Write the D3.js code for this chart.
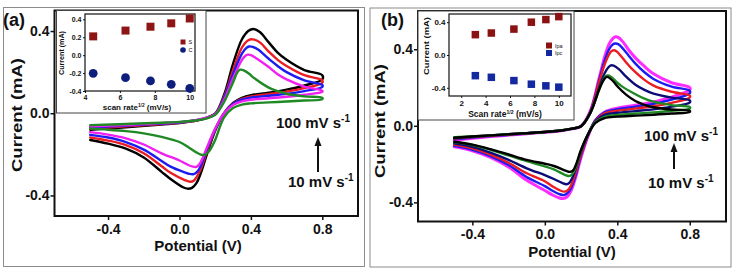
<!DOCTYPE html>
<html lang="en">
<head>
<meta charset="UTF-8">
<script src="https://d3js.org/d3.v7.min.js"></script>
<title>Cyclic voltammograms</title>
<style>
  body { margin: 0; background: #fff; }
  svg { display: block; }
  text { font-family: "Liberation Sans", Arial, sans-serif; font-weight: bold; fill: #111; }
</style>
</head>
<body>
<div id="chart"></div>
<script>
// ---- data ----
const potentialTicks = [-0.4, 0.0, 0.4, 0.8];
const currentTicks = [-0.4, 0.0, 0.4];

// panel (a): [potential (V), current (mA)], forward sweep then reverse sweep
const cvA_black = [[-0.5,-0.08],[-0.3,-0.068],[-0.1,-0.055],[0.0,-0.048],[0.1,-0.035],[0.15,-0.022],[0.2,-0.002],[0.25,0.09],[0.3,0.24],[0.35,0.36],[0.385,0.4],[0.414,0.41],[0.45,0.395],[0.5,0.345],[0.55,0.295],[0.6,0.26],[0.7,0.21],[0.8,0.185],
  [0.8,0.165],[0.7,0.135],[0.6,0.115],[0.5,0.1],[0.4,0.088],[0.35,0.075],[0.3,0.05],[0.25,0.0],[0.2,-0.085],[0.15,-0.21],[0.12,-0.29],[0.095,-0.34],[0.07,-0.363],[0.045,-0.367],[0.02,-0.36],[-0.05,-0.32],[-0.1,-0.285],[-0.2,-0.215],[-0.3,-0.172],[-0.4,-0.148],[-0.5,-0.13]];
const cvA_red = [[-0.5,-0.075],[-0.3,-0.064],[-0.1,-0.052],[0.0,-0.046],[0.1,-0.034],[0.15,-0.022],[0.2,-0.003],[0.25,0.08],[0.3,0.21],[0.35,0.32],[0.38,0.352],[0.4,0.36],[0.42,0.358],[0.45,0.345],[0.5,0.3],[0.55,0.26],[0.6,0.23],[0.7,0.185],[0.8,0.16],
  [0.8,0.148],[0.7,0.122],[0.6,0.105],[0.5,0.093],[0.4,0.082],[0.35,0.07],[0.3,0.047],[0.25,0.0],[0.2,-0.08],[0.15,-0.195],[0.12,-0.27],[0.1,-0.305],[0.08,-0.328],[0.06,-0.333],[0.03,-0.325],[-0.05,-0.29],[-0.1,-0.258],[-0.2,-0.195],[-0.3,-0.155],[-0.4,-0.133],[-0.5,-0.118]];
const cvA_blue = [[-0.5,-0.07],[-0.3,-0.06],[-0.1,-0.05],[0.0,-0.045],[0.1,-0.033],[0.15,-0.022],[0.2,-0.004],[0.25,0.075],[0.3,0.19],[0.35,0.29],[0.375,0.318],[0.39,0.325],[0.41,0.323],[0.44,0.31],[0.5,0.265],[0.55,0.23],[0.6,0.2],[0.7,0.16],[0.8,0.137],
  [0.8,0.128],[0.7,0.108],[0.6,0.094],[0.5,0.085],[0.4,0.076],[0.35,0.066],[0.3,0.045],[0.25,0.0],[0.2,-0.078],[0.15,-0.185],[0.12,-0.255],[0.1,-0.284],[0.08,-0.296],[0.055,-0.295],[0.03,-0.288],[-0.05,-0.26],[-0.1,-0.232],[-0.2,-0.177],[-0.3,-0.14],[-0.4,-0.118],[-0.5,-0.105]];
const cvA_magenta = [[-0.5,-0.065],[-0.3,-0.057],[-0.1,-0.048],[0.0,-0.043],[0.1,-0.032],[0.15,-0.022],[0.2,-0.005],[0.25,0.065],[0.3,0.17],[0.35,0.26],[0.37,0.28],[0.383,0.285],[0.4,0.283],[0.43,0.268],[0.5,0.225],[0.55,0.19],[0.6,0.165],[0.7,0.13],[0.8,0.11],
  [0.8,0.105],[0.7,0.09],[0.6,0.08],[0.5,0.073],[0.4,0.066],[0.35,0.058],[0.3,0.04],[0.25,0.0],[0.2,-0.075],[0.15,-0.175],[0.125,-0.228],[0.11,-0.25],[0.095,-0.261],[0.075,-0.26],[0.04,-0.248],[0.0,-0.23],[-0.1,-0.195],[-0.2,-0.152],[-0.3,-0.122],[-0.4,-0.104],[-0.5,-0.092]];
const cvA_green = [[-0.5,-0.058],[-0.3,-0.052],[-0.1,-0.046],[0.0,-0.042],[0.1,-0.034],[0.15,-0.026],[0.2,-0.008],[0.25,0.055],[0.3,0.15],[0.325,0.2],[0.34,0.212],[0.36,0.209],[0.39,0.192],[0.42,0.17],[0.5,0.125],[0.55,0.108],[0.6,0.095],[0.7,0.082],[0.8,0.075],
  [0.8,0.068],[0.7,0.062],[0.6,0.057],[0.5,0.053],[0.4,0.048],[0.35,0.042],[0.3,0.025],[0.25,-0.02],[0.2,-0.13],[0.17,-0.18],[0.15,-0.198],[0.13,-0.203],[0.1,-0.193],[0.05,-0.165],[0.0,-0.14],[-0.1,-0.115],[-0.2,-0.098],[-0.3,-0.087],[-0.4,-0.08],[-0.5,-0.075]];

// panel (b)
const cvB_magenta = [[-0.5,-0.075],[-0.3,-0.056],[-0.1,-0.041],[0.0,-0.034],[0.1,-0.024],[0.15,-0.016],[0.2,-0.002],[0.25,0.075],[0.3,0.25],[0.33,0.36],[0.355,0.428],[0.375,0.456],[0.39,0.465],[0.405,0.462],[0.43,0.44],[0.46,0.4],[0.5,0.355],[0.55,0.31],[0.6,0.272],[0.7,0.225],[0.8,0.2],
  [0.8,0.188],[0.7,0.15],[0.6,0.125],[0.5,0.108],[0.4,0.092],[0.33,0.072],[0.28,0.03],[0.24,-0.05],[0.2,-0.165],[0.17,-0.27],[0.145,-0.34],[0.122,-0.372],[0.1,-0.38],[0.075,-0.375],[0.04,-0.36],[0.0,-0.338],[-0.1,-0.285],[-0.2,-0.215],[-0.3,-0.165],[-0.4,-0.13],[-0.5,-0.11]];
const cvB_blue = [[-0.5,-0.07],[-0.3,-0.054],[-0.1,-0.04],[0.0,-0.033],[0.1,-0.024],[0.15,-0.016],[0.2,-0.002],[0.25,0.072],[0.3,0.24],[0.33,0.34],[0.355,0.4],[0.375,0.425],[0.39,0.43],[0.405,0.427],[0.43,0.405],[0.46,0.37],[0.5,0.325],[0.55,0.28],[0.6,0.245],[0.7,0.205],[0.8,0.183],
  [0.8,0.17],[0.7,0.137],[0.6,0.115],[0.5,0.1],[0.4,0.087],[0.33,0.07],[0.28,0.03],[0.24,-0.048],[0.2,-0.155],[0.17,-0.26],[0.145,-0.325],[0.125,-0.352],[0.105,-0.362],[0.08,-0.357],[0.04,-0.338],[0.0,-0.315],[-0.1,-0.268],[-0.2,-0.205],[-0.3,-0.158],[-0.4,-0.125],[-0.5,-0.105]];
const cvB_red = [[-0.5,-0.066],[-0.3,-0.052],[-0.1,-0.039],[0.0,-0.032],[0.1,-0.023],[0.15,-0.015],[0.2,-0.002],[0.25,0.07],[0.3,0.23],[0.33,0.32],[0.35,0.365],[0.365,0.388],[0.38,0.395],[0.395,0.39],[0.42,0.365],[0.45,0.33],[0.5,0.28],[0.55,0.24],[0.6,0.21],[0.7,0.178],[0.8,0.158],
  [0.8,0.148],[0.7,0.12],[0.6,0.102],[0.5,0.09],[0.4,0.079],[0.33,0.065],[0.28,0.028],[0.24,-0.045],[0.2,-0.148],[0.17,-0.245],[0.15,-0.3],[0.13,-0.333],[0.11,-0.344],[0.085,-0.338],[0.04,-0.315],[0.0,-0.29],[-0.1,-0.248],[-0.2,-0.193],[-0.3,-0.15],[-0.4,-0.118],[-0.5,-0.098]];
const cvB_navy = [[-0.5,-0.064],[-0.3,-0.05],[-0.1,-0.038],[0.0,-0.032],[0.1,-0.023],[0.15,-0.015],[0.2,-0.002],[0.25,0.065],[0.3,0.2],[0.33,0.275],[0.35,0.305],[0.365,0.316],[0.38,0.314],[0.41,0.295],[0.44,0.265],[0.5,0.215],[0.55,0.188],[0.6,0.168],[0.7,0.147],[0.8,0.133],
  [0.8,0.122],[0.7,0.1],[0.6,0.086],[0.5,0.077],[0.4,0.068],[0.33,0.057],[0.28,0.025],[0.24,-0.04],[0.2,-0.135],[0.17,-0.225],[0.15,-0.275],[0.135,-0.298],[0.12,-0.305],[0.095,-0.298],[0.05,-0.278],[0.0,-0.258],[-0.1,-0.222],[-0.2,-0.178],[-0.3,-0.14],[-0.4,-0.11],[-0.5,-0.092]];
const cvB_green = [[-0.5,-0.06],[-0.3,-0.05],[-0.1,-0.038],[0.0,-0.032],[0.1,-0.023],[0.15,-0.015],[0.2,-0.002],[0.25,0.065],[0.3,0.19],[0.32,0.235],[0.335,0.258],[0.35,0.263],[0.365,0.256],[0.39,0.235],[0.42,0.21],[0.5,0.165],[0.55,0.142],[0.6,0.126],[0.7,0.108],[0.8,0.098],
  [0.8,0.09],[0.7,0.079],[0.6,0.07],[0.5,0.064],[0.4,0.057],[0.33,0.047],[0.28,0.02],[0.24,-0.04],[0.2,-0.13],[0.175,-0.205],[0.16,-0.24],[0.145,-0.258],[0.13,-0.262],[0.11,-0.256],[0.05,-0.228],[0.0,-0.212],[-0.1,-0.185],[-0.2,-0.155],[-0.3,-0.125],[-0.4,-0.1],[-0.5,-0.085]];
const cvB_black = [[-0.5,-0.062],[-0.3,-0.05],[-0.1,-0.038],[0.0,-0.032],[0.1,-0.023],[0.15,-0.015],[0.2,-0.002],[0.25,0.065],[0.3,0.19],[0.32,0.232],[0.335,0.252],[0.345,0.256],[0.36,0.248],[0.38,0.23],[0.4,0.207],[0.45,0.162],[0.5,0.13],[0.55,0.11],[0.6,0.097],[0.7,0.085],[0.8,0.078],
  [0.8,0.072],[0.7,0.064],[0.6,0.058],[0.5,0.053],[0.4,0.048],[0.33,0.04],[0.28,0.015],[0.24,-0.042],[0.2,-0.125],[0.175,-0.195],[0.16,-0.228],[0.145,-0.24],[0.13,-0.24],[0.11,-0.233],[0.05,-0.21],[0.0,-0.198],[-0.1,-0.178],[-0.2,-0.15],[-0.3,-0.122],[-0.4,-0.098],[-0.5,-0.083]];

// insets: peak current vs square root of scan rate
const insetA_rate = [4.47, 6.32, 7.75, 8.94, 10.0];
const insetA_S = [0.21, 0.275, 0.318, 0.356, 0.41];
const insetA_C = [-0.203, -0.251, -0.288, -0.326, -0.37];
const insetA_xTicks = [4, 6, 8, 10];
const insetA_yTicks = [-0.4, -0.2, 0.0, 0.2, 0.4];
const insetA_labels = ["S", "C"];

const insetB_rate = [3.16, 4.47, 6.32, 7.75, 8.94, 10.0];
const insetB_ipa = [0.248, 0.268, 0.316, 0.4, 0.432, 0.468];
const insetB_ipc = [-0.252, -0.272, -0.312, -0.356, -0.376, -0.392];
const insetB_xTicks = [2, 4, 6, 8, 10];
const insetB_yTicks = [-0.4, 0.0, 0.4];
const insetB_labels = ["Ipa", "Ipc"];

// ---- drawing ----
const width = 738, height = 277;
const svg = d3.select("#chart").append("svg")
  .attr("width", width)
  .attr("height", height)
  .attr("viewBox", `0 0 ${width} ${height}`);

svg.append("rect").attr("width", width).attr("height", height).attr("fill", "#fff");

function styleAxis(sel, size) {
  sel.select(".domain").remove();
  sel.selectAll("line").attr("stroke", "#111").attr("stroke-width", size > 10 ? 1.5 : 1);
  sel.selectAll("text").attr("font-size", size).attr("fill", "#111");
}

function drawPanel(cfg) {
  const g = svg.append("g");
  const f = cfg.frame;

  // light outer border
  g.append("rect")
    .attr("x", cfg.box[0]).attr("y", cfg.box[1])
    .attr("width", cfg.box[2]).attr("height", cfg.box[3])
    .attr("fill", "none").attr("stroke", "#8c8c8c").attr("stroke-width", 1);

  const x = d3.scaleLinear().domain([-0.7, 1.0]).range([f.left, f.right]);
  const y = d3.scaleLinear().domain(cfg.yDomain).range([f.bottom, f.top]);

  const line = d3.line()
    .x(d => x(d[0]))
    .y(d => y(d[1]))
    .curve(d3.curveCatmullRom.alpha(0.5));

  g.selectAll(".cv")
    .data(cfg.series)
    .join("path")
    .attr("class", "cv")
    .attr("d", d => line(d.values))
    .attr("fill", "none")
    .attr("stroke", d => d.color)
    .attr("stroke-width", d => d.width)
    .attr("stroke-linejoin", "round")
    .attr("stroke-linecap", "round");

  g.append("g")
    .attr("transform", `translate(0,${f.bottom})`)
    .call(d3.axisBottom(x).tickValues(potentialTicks).tickFormat(d => d.toFixed(1)).tickSize(4).tickPadding(4))
    .call(a => styleAxis(a, 14));

  g.append("g")
    .attr("transform", `translate(${f.left},0)`)
    .call(d3.axisLeft(y).tickValues(currentTicks).tickFormat(d => d.toFixed(1)).tickSize(4).tickPadding(1))
    .call(a => styleAxis(a, 14));

  g.append("rect")
    .attr("x", f.left).attr("y", f.top)
    .attr("width", f.right - f.left).attr("height", f.bottom - f.top)
    .attr("fill", "none").attr("stroke", "#111").attr("stroke-width", 2);

  // titles
  g.append("text")
    .attr("x", cfg.xTitle[0]).attr("y", cfg.xTitle[1])
    .attr("text-anchor", "middle").attr("font-size", 15)
    .text("Potential (V)");

  g.append("text")
    .attr("transform", `translate(${cfg.yTitle[0]},${cfg.yTitle[1]}) rotate(-90)`)
    .attr("text-anchor", "middle").attr("font-size", 15)
    .attr("textLength", 114).attr("lengthAdjust", "spacingAndGlyphs")
    .text("Current (mA)");

  g.append("text")
    .attr("x", cfg.tag[0]).attr("y", cfg.tag[1])
    .attr("font-size", 18)
    .text(cfg.tagText);

  // scan-rate annotation
  const an = cfg.note;
  const rate = (t, px, py) => {
    const tx = g.append("text").attr("x", px).attr("y", py).attr("font-size", 15);
    tx.append("tspan").text(t);
    tx.append("tspan").attr("font-size", 10).attr("dy", -6).text("-1");
  };
  rate("100 mV s", an.top[0], an.top[1]);
  rate("10 mV s", an.bottom[0], an.bottom[1]);
  g.append("line")
    .attr("x1", an.arrowX).attr("x2", an.arrowX)
    .attr("y1", an.arrowY[0]).attr("y2", an.arrowY[1] + 6)
    .attr("stroke", "#111").attr("stroke-width", 2);
  g.append("path")
    .attr("d", d3.line()([[an.arrowX - 3.5, an.arrowY[1] + 9], [an.arrowX, an.arrowY[1]], [an.arrowX + 3.5, an.arrowY[1] + 9]]) + "Z")
    .attr("fill", "#111");

  drawInset(g, cfg.inset);
}

function drawInset(g, c) {
  g.append("rect")
    .attr("x", c.box[0]).attr("y", c.box[1])
    .attr("width", c.box[2]).attr("height", c.box[3])
    .attr("fill", "#fff").attr("stroke", "#444").attr("stroke-width", 1);

  const p = c.plot;
  const x = d3.scaleLinear().domain(c.xDomain).range([p.left, p.right]);
  const y = d3.scaleLinear().domain(c.yDomain).range([p.bottom, p.top]);

  g.append("g")
    .attr("transform", `translate(0,${p.bottom})`)
    .call(d3.axisBottom(x).tickValues(c.xTicks).tickFormat(d3.format("d")).tickSize(2).tickPadding(2))
    .call(a => styleAxis(a, c.font));

  g.append("g")
    .attr("transform", `translate(${p.left},0)`)
    .call(d3.axisLeft(y).tickValues(c.yTicks).tickFormat(d => d.toFixed(1)).tickSize(2).tickPadding(1.5))
    .call(a => styleAxis(a, c.font));

  g.append("rect")
    .attr("x", p.left).attr("y", p.top)
    .attr("width", p.right - p.left).attr("height", p.bottom - p.top)
    .attr("fill", "none").attr("stroke", "#111").attr("stroke-width", 1.2);

  const pts = c.rate.map((r, i) => ({ r, up: c.up[i], down: c.down[i] }));
  const sz = c.marker;

  g.selectAll(null).data(pts).join("rect")
    .attr("x", d => x(d.r) - sz / 2).attr("y", d => y(d.up) - sz / 2)
    .attr("width", sz).attr("height", sz)
    .attr("fill", c.colors[0]);

  if (c.circles) {
    g.selectAll(null).data(pts).join("circle")
      .attr("cx", d => x(d.r)).attr("cy", d => y(d.down))
      .attr("r", sz / 2 + 0.4)
      .attr("fill", c.colors[1]);
  } else {
    g.selectAll(null).data(pts).join("rect")
      .attr("x", d => x(d.r) - sz / 2).attr("y", d => y(d.down) - sz / 2)
      .attr("width", sz).attr("height", sz)
      .attr("fill", c.colors[1]);
  }

  // legend
  const lg = c.legend;
  c.labels.forEach((lab, i) => {
    const ly = lg.y + i * lg.step;
    if (i === 1 && c.circles) {
      g.append("circle").attr("cx", lg.x).attr("cy", ly).attr("r", lg.size / 2 + 0.3).attr("fill", c.colors[1]);
    } else {
      g.append("rect").attr("x", lg.x - lg.size / 2).attr("y", ly - lg.size / 2)
        .attr("width", lg.size).attr("height", lg.size).attr("fill", c.colors[i]);
    }
    g.append("text")
      .attr("x", lg.x + lg.size / 2 + 3).attr("y", ly + 2)
      .attr("font-size", 5.5).attr("fill", "#555")
      .style("font-weight", "normal")
      .text(lab);
  });

  // inset titles
  const xt = g.append("text")
    .attr("x", c.xTitle[0]).attr("y", c.xTitle[1])
    .attr("text-anchor", "middle").attr("font-size", c.titleFont);
  xt.append("tspan").text(c.xTitleText);
  xt.append("tspan").attr("font-size", c.titleFont * 0.6).attr("dy", -3.5).text("1/2");
  xt.append("tspan").attr("dy", 3.5).text(" (mV/s)");

  g.append("text")
    .attr("transform", `translate(${c.yTitle[0]},${c.yTitle[1]}) rotate(-90)`)
    .attr("text-anchor", "middle").attr("font-size", c.font)
    .attr("textLength", c.yTitle[2]).attr("lengthAdjust", "spacingAndGlyphs")
    .text("Current (mA)");
}

drawPanel({
  box: [3.5, 7.5, 361, 259],
  frame: { left: 54.5, right: 358, top: 10.5, bottom: 216 },
  yDomain: [-0.5, 0.5],
  series: [
    { values: cvA_black, color: "#000000", width: 2.4 },
    { values: cvA_red, color: "#ec1c24", width: 2.4 },
    { values: cvA_blue, color: "#1c1cf2", width: 2.4 },
    { values: cvA_magenta, color: "#f020f0", width: 2.4 },
    { values: cvA_green, color: "#1f8a25", width: 2.4 }
  ],
  xTitle: [198, 250.5],
  yTitle: [21.5, 115],
  tag: [3, 26], tagText: "(a)",
  note: { top: [276, 127.5], bottom: [288, 186.5], arrowX: 318, arrowY: [172, 137] },
  inset: {
    box: [56.5, 10.5, 149.5, 102.5],
    plot: { left: 85, right: 195, top: 14, bottom: 91 },
    xDomain: [4, 10.3], yDomain: [-0.4, 0.46],
    xTicks: insetA_xTicks, yTicks: insetA_yTicks,
    rate: insetA_rate, up: insetA_S, down: insetA_C,
    colors: ["#8e1515", "#0d1e7c"], circles: true, marker: 8,
    labels: insetA_labels, legend: { x: 183, y: 42, step: 8, size: 5 },
    font: 7, titleFont: 8,
    xTitle: [137, 110], xTitleText: "scan rate",
    yTitle: [64, 53, 44]
  }
});

drawPanel({
  box: [370, 8, 361, 259],
  frame: { left: 418, right: 726, top: 11, bottom: 221.5 },
  yDomain: [-0.5, 0.6],
  series: [
    { values: cvB_magenta, color: "#ff2cff", width: 3 },
    { values: cvB_blue, color: "#1c1cf2", width: 2.4 },
    { values: cvB_red, color: "#ec1c24", width: 2.4 },
    { values: cvB_navy, color: "#0c0c78", width: 2.4 },
    { values: cvB_green, color: "#1f8a25", width: 2.4 },
    { values: cvB_black, color: "#000000", width: 2.4 }
  ],
  xTitle: [572, 257],
  yTitle: [385, 121],
  tag: [381, 26], tagText: "(b)",
  note: { top: [644, 141], bottom: [648, 187.5], arrowX: 674, arrowY: [169, 143] },
  inset: {
    box: [418, 11, 156, 109],
    plot: { left: 449, right: 571, top: 14, bottom: 96 },
    xDomain: [1, 11], yDomain: [-0.5, 0.5],
    xTicks: insetB_xTicks, yTicks: insetB_yTicks,
    rate: insetB_rate, up: insetB_ipa, down: insetB_ipc,
    colors: ["#8b1212", "#1428a0"], circles: false, marker: 7.5,
    labels: insetB_labels, legend: { x: 549, y: 45.5, step: 7.5, size: 6 },
    font: 8, titleFont: 8.5,
    xTitle: [505, 117], xTitleText: "Scan rate",
    yTitle: [429, 46, 58]
  }
});
</script>
</body>
</html>
